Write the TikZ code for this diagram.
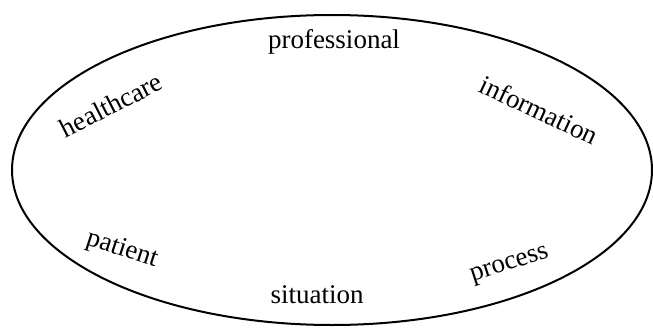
\documentclass[tikz,border=0pt]{standalone}
\usepackage{fontspec}
\setmainfont{Liberation Serif}
\usepackage{tikz}

\begin{document}
\begin{tikzpicture}[x=1pt,y=-1pt,
  word/.style={inner sep=0pt,font=\fontsize{27}{32}\selectfont},
  ring/.style={draw,line width=2pt}]
\useasboundingbox (0,0) rectangle (653,329);
\draw[ring] (332,170) ellipse [x radius=320,y radius=155];
\node[word] (professional) at (334,42) {professional};
\node[word,rotate=27] (healthcare) at (111,105) {healthcare};
\node[word,rotate=-25] (information) at (539,110) {information};
\node[word,rotate=-18] (patient) at (122,250) {patient};
\node[word,rotate=18] (process) at (510,266) {process};
\node[word] (situation) at (317,295) {situation};
\end{tikzpicture}
\end{document}
